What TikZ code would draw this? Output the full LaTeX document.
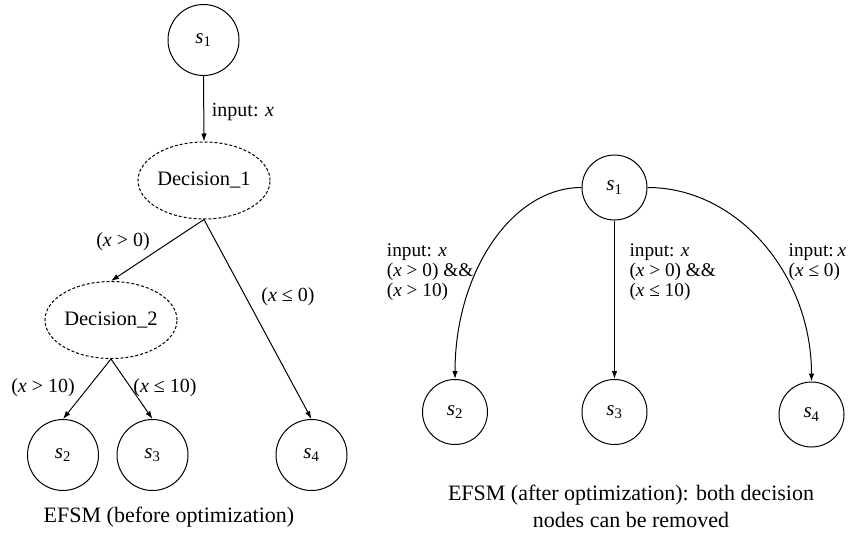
\documentclass[tikz,border=0pt]{standalone}
\usepackage{fontspec}
\setmainfont{Liberation Serif}
\usetikzlibrary{arrows.meta,shapes.geometric}
\newcommand\vx{\textit{x}}
\newcommand\sname[1]{\textit{s}\textsubscript{#1}}
\begin{document}
\begin{tikzpicture}[x=1pt,y=-1pt,
  state/.style={circle,draw,line width=1pt,minimum size=71pt,inner sep=0pt,
    font=\fontsize{21}{24}\selectfont},
  rstate/.style={state,minimum size=65pt},
  decision/.style={ellipse,draw,dash pattern=on 3pt off 2pt,line width=1pt,
    minimum width=127pt,minimum height=77pt,inner sep=0pt,
    font=\fontsize{20.5}{24}\selectfont},
  edge/.style={line width=1pt,-{Latex[length=8pt,width=5.5pt]}},
  lbl/.style={font=\fontsize{20}{20}\selectfont,inner sep=0pt},
  rlbl/.style={font=\fontsize{19.3}{20}\selectfont,inner sep=0pt,align=left,anchor=west},
  caption/.style={font=\fontsize{22}{27}\selectfont,align=center,inner sep=0pt}]
\useasboundingbox (0,0) rectangle (848,535);

% ---- EFSM before optimization ----
\node[state] (a1) at (203.5,40) {\sname{1}};
\node[decision] (d1) at (204,180.5) {Decision\_1};
\node[decision] (d2) at (111,320) {Decision\_2};
\node[state] (a2) at (63,455) {\sname{2}};
\node[state] (a3) at (152.5,455) {\sname{3}};
\node[state] (a4) at (311.5,455) {\sname{4}};

\draw[edge] (a1.south) -- (d1.north);
\draw[edge] (d1.south) -- (d2.north);
\draw[edge] (d1.south) -- (a4.north);
\draw[edge] (d2.south) -- (a2.north);
\draw[edge] (d2.south) -- (a3.north);

\node[lbl,anchor=west] (l1) at (211.7,111.7) {input: \vx};
\node[lbl] (l2) at (123,241.7) {(\vx{} > 0)};
\node[lbl] (l3) at (288,296.7) {(\vx{} ≤ 0)};
\node[lbl] (l4) at (43,388) {(\vx{} > 10)};
\node[lbl] (l5) at (165,388) {(\vx{} ≤ 10)};

\node[caption] (c1) at (169,516.7) {EFSM (before optimization)};

% ---- EFSM after optimization ----
\node[rstate] (b1) at (614.5,187.5) {\sname{1}};
\node[rstate] (b2) at (455,412) {\sname{2}};
\node[rstate] (b3) at (614.5,412) {\sname{3}};
\node[rstate] (b4) at (811.5,414.5) {\sname{4}};

\draw[edge] (b1.west) .. controls +(-70,0) and +(0,-106) .. (b2.north);
\draw[edge] (b1.south) -- (b3.north);
\draw[edge] (b1.east) .. controls +(90,0) and +(0,-107) .. (b4.north);

\node[rlbl] (r1) at (386.7,271.7)
  {input: \vx\\(\vx{} > 0) \&\&\\(\vx{} > 10)};
\node[rlbl] (r2) at (629.3,271.7)
  {input: \vx\\(\vx{} > 0) \&\&\\(\vx{} ≤ 10)};
\node[rlbl] (r3) at (788.5,261.7)
  {input:\hspace{0.2em}\vx\\(\vx{} ≤ 0)};

\node[caption] (c2) at (631,506.5)
  {EFSM (after optimization): both decision\\nodes can be removed};
\end{tikzpicture}
\end{document}
